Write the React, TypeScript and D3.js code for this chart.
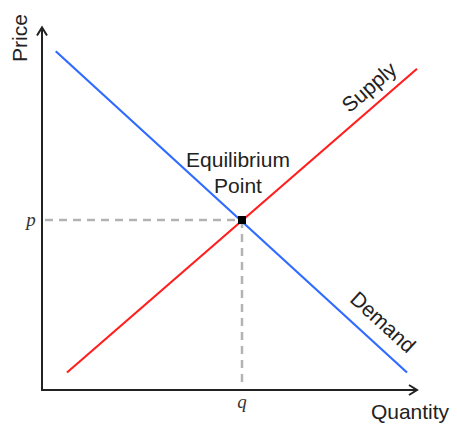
import React from "react";
import * as d3 from "d3";

// chart values (quantity / price units)
const supplyQ = [1, 15];
const supplyP = [0.7, 12.85];
const demandQ = [0.55, 14.6];
const demandP = [13.55, 0.7];
const eqQ = 8;
const eqP = 6.8;
const axisMax = { q: 15, p: 14.5 };
const labels = { x: "Quantity", y: "Price", supply: "Supply", demand: "Demand", q: "q", p: "p" };
const eqLabel = ["Equilibrium", "Point"];

const W = 457;
const H = 425;
const left = 42;
const bottom = 390;

const font = "'Liberation Sans', Arial, sans-serif";

export default function App() {
  const x = d3.scaleLinear().domain([0, axisMax.q]).range([left, 417]);
  const y = d3.scaleLinear().domain([0, axisMax.p]).range([bottom, 27.5]);

  const line = d3
    .line<[number, number]>()
    .x(d => x(d[0]))
    .y(d => y(d[1]));

  const supply: [number, number][] = supplyQ.map((q, i) => [q, supplyP[i]]);
  const demand: [number, number][] = demandQ.map((q, i) => [q, demandP[i]]);

  const ex = x(eqQ);
  const ey = y(eqP);

  // angles of the two curves, for the rotated labels
  const sAng = (Math.atan2(y(supplyP[1]) - y(supplyP[0]), x(supplyQ[1]) - x(supplyQ[0])) * 180) / Math.PI;
  const dAng = (Math.atan2(y(demandP[1]) - y(demandP[0]), x(demandQ[1]) - x(demandQ[0])) * 180) / Math.PI;

  const xEnd = x(axisMax.q);
  const yEnd = y(axisMax.p);

  return (
    <svg width={W} height={H} style={{ display: "block", position: "absolute", left: 0, top: 0 }}>
      <rect width={W} height={H} fill="#fff" />

      {/* dashed guides */}
      <g stroke="#b3b3b3" strokeWidth={2.5} strokeDasharray="8,6">
        <line x1={left + 3} y1={ey} x2={ex} y2={ey} />
        <line x1={ex} y1={ey} x2={ex} y2={bottom - 2} />
      </g>

      {/* curves */}
      <path d={line(demand) || ""} stroke="#2f6bff" strokeWidth={2.2} fill="none" />
      <path d={line(supply) || ""} stroke="#ff1f1f" strokeWidth={2.2} fill="none" />

      {/* axes */}
      <g stroke="#222" strokeWidth={2} fill="none">
        <polyline points={`${left},${yEnd} ${left},${bottom} ${xEnd},${bottom}`} />
        <polyline points={`${left - 5},${yEnd + 8} ${left},${yEnd} ${left + 5},${yEnd + 8}`} />
        <polyline points={`${xEnd - 8},${bottom - 5} ${xEnd},${bottom} ${xEnd - 8},${bottom + 5}`} />
      </g>

      {/* equilibrium */}
      <rect x={ex - 4} y={ey - 4} width={8} height={8} fill="#000" />

      <g fontFamily={font} fill="#222" fontSize={21}>
        <text x={ex - 4} y={167} textAnchor="middle">{eqLabel[0]}</text>
        <text x={ex - 4} y={193} textAnchor="middle">{eqLabel[1]}</text>
        <text transform={`translate(369,87) rotate(${sAng})`} textAnchor="middle" dy="0.35em">
          {labels.supply}
        </text>
        <text transform={`translate(383,322) rotate(${dAng})`} textAnchor="middle" dy="0.35em">
          {labels.demand}
        </text>
        <text x={410} y={419} textAnchor="middle">{labels.x}</text>
        <text transform="translate(20,38) rotate(-90)" textAnchor="middle" dy="0.35em">
          {labels.y}
        </text>
      </g>

      <g fontFamily="'Liberation Serif', 'DejaVu Serif', serif" fontStyle="italic" fill="#333" fontSize={19}>
        <text x={31} y={ey} textAnchor="middle" dy="0.3em">{labels.p}</text>
        <text x={ex} y={408} textAnchor="middle">{labels.q}</text>
      </g>
    </svg>
  );
}
